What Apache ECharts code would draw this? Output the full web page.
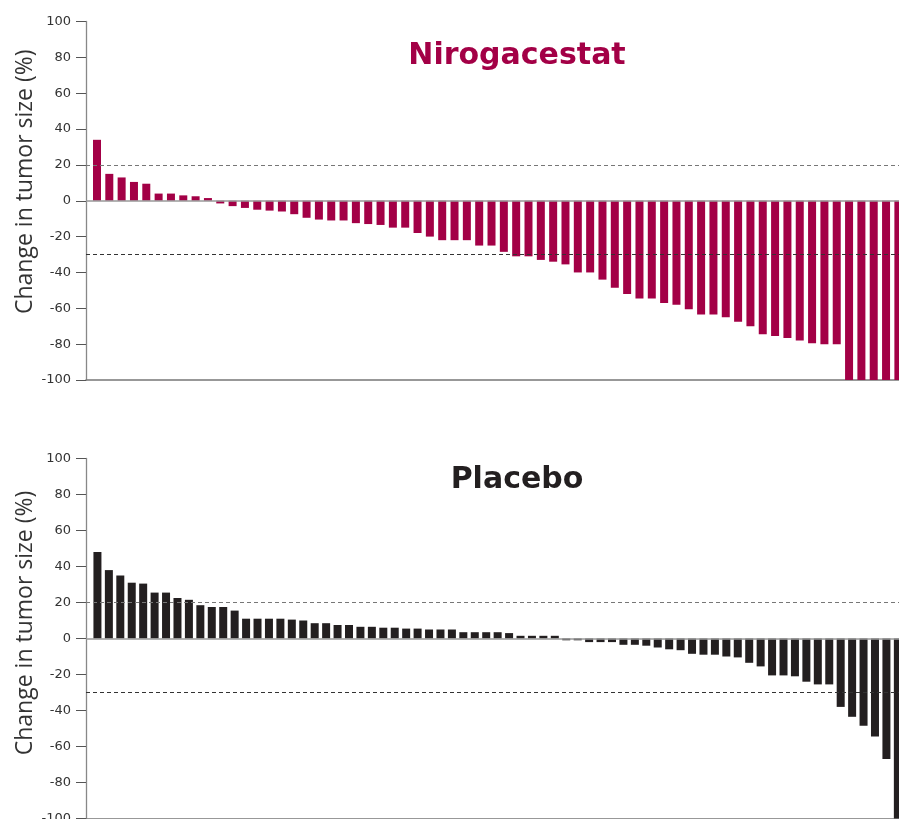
<!DOCTYPE html>
<html>
<head>
<meta charset="utf-8">
<script src="https://cdn.jsdelivr.net/npm/echarts@6/dist/echarts.min.js"></script>
<style>
html,body{margin:0;padding:0;background:#fff;}
#chart{width:899px;height:819px;}
</style>
</head>
<body>
<div id="chart"></div>
<script>
// Change in tumor size (%) per patient, sorted
const nirogacestatChange = [34, 15, 13, 10.5, 9.5, 4, 4, 3, 2.5, 1.5, -1.5, -3, -4, -5, -5.5, -6, -7.5, -9.5, -10.5, -11, -11, -12.5,
  -13, -13.5, -15, -15, -18, -20, -22, -22, -22, -25, -25, -28.5, -31, -31, -33, -34, -35.5, -40, -40, -44, -48.5, -52,
  -54.5, -54.5, -57, -58, -60.5, -63.5, -63.5, -65, -67.5, -70, -74.5, -75.5, -76.5, -78, -79.5, -80, -80, -100, -100, -100, -100, -100];
const placeboChange = [48, 38, 35, 31, 30.5, 25.5, 25.5, 22.5, 21.5, 18.5, 17.5, 17.5, 15.5, 11, 11, 11, 11, 10.5, 10, 8.5, 8.5, 7.5, 7.5, 6.5,
  6.5, 6, 6, 5.5, 5.5, 5, 5, 5, 3.5, 3.5, 3.5, 3.5, 3, 1.5, 1.5, 1.5, 1.5, -1, -1, -2, -2, -2, -3.5,
  -3.5, -4, -5, -6, -6.5, -8.5, -9, -9, -10, -10.5, -13.5, -15.5, -20.5, -20.5, -21, -24, -25.5, -25.5, -38, -43.5, -48.5, -54.5, -67, -100];
const panelTitles = ['Nirogacestat', 'Placebo'];
const yAxisName = 'Change in tumor size (%)';
const thresholds = [20, -30];
const yRange = [-100, 100];
const yStep = 20;

const colors = ['#A30046', '#231F20'];
const datasets = [nirogacestatChange, placeboChange];

const chart = echarts.init(document.getElementById('chart'), null, {renderer: 'canvas'});

const grids = [
  {left: 86, right: 0, top: 21.5, height: 358.5, outerBoundsMode: 'none', containLabel: false},
  {left: 86, right: 0, top: 458.5, height: 360, outerBoundsMode: 'none', containLabel: false}
];
const xRanges = [[-0.89, 65.05], [-1.0, 70.1]];
const namePad = [38, 31];
const titleTops = [41, 465];

const option = {
  animation: false,
  backgroundColor: '#fff',
  title: panelTitles.map((t, i) => ({
    text: t,
    left: 517,
    textAlign: 'center',
    top: titleTops[i],
    padding: 0,
    textStyle: {fontFamily: 'DejaVu Sans', fontWeight: 'bold', fontSize: 30, color: colors[i]}
  })),
  grid: grids,
  xAxis: xRanges.map((r, i) => ({
    type: 'value', gridIndex: i, min: r[0], max: r[1],
    axisLine: {show: true, onZero: false, lineStyle: {color: '#777', width: 1.5}},
    axisTick: {show: false}, axisLabel: {show: false}, splitLine: {show: false}
  })),
  yAxis: grids.map((g, i) => ({
    type: 'value', gridIndex: i, min: yRange[0], max: yRange[1], interval: yStep,
    name: yAxisName, nameLocation: 'middle', nameGap: 49, nameMoveOverlap: false,
    nameTextStyle: {fontFamily: 'Open Sans', fontSize: 23, color: '#333', padding: [0, 0, 0, namePad[i]]},
    axisLine: {show: true, onZero: false, lineStyle: {color: '#888', width: 1.3}},
    axisTick: {show: true, length: 10, lineStyle: {color: '#555', width: 1}},
    axisLabel: {fontFamily: 'DejaVu Sans', fontSize: 13, color: '#333', margin: 15},
    splitLine: {show: false}
  })),
  series: datasets.map((d, i) => ({
    type: 'bar', xAxisIndex: i, yAxisIndex: i,
    data: d.map((v, k) => [k, v]),
    barWidth: 8,
    itemStyle: {color: colors[i]},
    markLine: {
      silent: true, symbol: 'none', label: {show: false},
      data: [
        {yAxis: 0, lineStyle: {color: '#999', width: 1.5, type: 'solid'}},
        {yAxis: thresholds[0], lineStyle: {color: '#777', width: 1, type: [4, 3]}},
        {yAxis: thresholds[1], lineStyle: {color: '#333', width: 1, type: [4, 3]}}
      ]
    }
  }))
};
chart.setOption(option);
</script>
</body>
</html>
